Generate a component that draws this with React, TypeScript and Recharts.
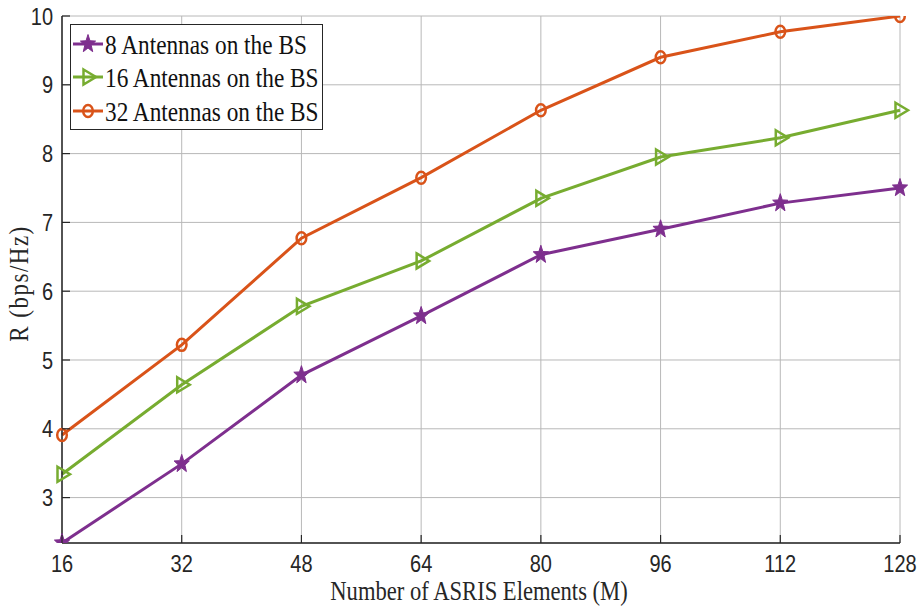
import { LineChart, Line, XAxis, YAxis, CartesianGrid, Legend } from "recharts";

// Number of ASRIS elements (x axis)
const elements = [16, 32, 48, 64, 80, 96, 112, 128];
// Achievable rate (bps/Hz) per BS antenna count
const rate8 = [2.34, 3.49, 4.78, 5.64, 6.53, 6.9, 7.28, 7.5];
const rate16 = [3.34, 4.64, 5.78, 6.44, 7.35, 7.95, 8.23, 8.63];
const rate32 = [3.91, 5.22, 6.77, 7.65, 8.63, 9.4, 9.77, 10.0];
const yTicks = [3, 4, 5, 6, 7, 8, 9, 10];
const seriesNames = ["8 Antennas on the BS", "16 Antennas on the BS", "32 Antennas on the BS"];

const PURPLE = "#7E2F8E";
const GREEN = "#77AC30";
const ORANGE = "#D95319";
const AXIS = "#262626";
const GRID = "#b8b8b8";
const TICK_FONT = "'Liberation Sans', Arial, sans-serif";
const SERIF = "'Liberation Serif', 'Times New Roman', serif";
const STRETCH = 1.2; // source figure is stretched vertically

const data = elements.map((m, i) => ({
  m,
  r8: rate8[i],
  r16: rate16[i],
  r32: rate32[i],
}));

// ── markers ────────────────────────────────────────────────────────────────
function starPoints(cx: number, cy: number, rx: number, ry: number) {
  const pts: string[] = [];
  for (let i = 0; i < 10; i++) {
    const k = i % 2 === 0 ? 1 : 0.42;
    const a = -Math.PI / 2 + (i * Math.PI) / 5;
    pts.push(`${cx + rx * k * Math.cos(a)},${cy + ry * k * Math.sin(a)}`);
  }
  return pts.join(" ");
}

function Marker({ kind, cx, cy, color }: { kind: string; cx: number; cy: number; color: string }) {
  if (kind === "star") {
    return <polygon points={starPoints(cx, cy, 8, 9.5)} fill={color} stroke={color} strokeWidth={1} />;
  }
  if (kind === "tri") {
    return (
      <polygon
        points={`${cx - 4.5},${cy - 7.5} ${cx + 8},${cy} ${cx - 4.5},${cy + 7.5}`}
        fill="none"
        stroke={color}
        strokeWidth={2.5}
      />
    );
  }
  return <ellipse cx={cx} cy={cy} rx={4.8} ry={6} fill="none" stroke={color} strokeWidth={2.5} />;
}

const makeDot = (kind: string, color: string) => (props: any) => {
  const { cx, cy, index } = props;
  if (cx == null || cy == null) return <g key={`${kind}-${index}`} />;
  return (
    <g key={`${kind}-${index}`}>
      <Marker kind={kind} cx={cx} cy={cy} color={color} />
    </g>
  );
};

// ── axis ticks (MATLAB style, pointing inward) ──────────────────────────────
const BottomTick = (props: any) => {
  const { x, y, payload } = props;
  return (
    <g>
      <line x1={x} y1={y} x2={x} y2={y - 8} stroke={AXIS} strokeWidth={1.2} />
      <text
        transform={`translate(${x},${y + 29}) scale(1,${STRETCH})`}
        textAnchor="middle"
        fontFamily={TICK_FONT}
        fontSize={20}
        fill="#262626"
      >
        {payload.value}
      </text>
    </g>
  );
};

const TopTick = (props: any) => {
  const { x, y } = props;
  return <line x1={x} y1={y} x2={x} y2={y + 8} stroke={AXIS} strokeWidth={1.2} />;
};

const LeftTick = (props: any) => {
  const { x, y, payload } = props;
  return (
    <g>
      <line x1={x} y1={y} x2={x + 8} y2={y} stroke={AXIS} strokeWidth={1.2} />
      <text
        transform={`translate(${x - 9},${y}) scale(1,${STRETCH})`}
        dy="0.36em"
        textAnchor="end"
        fontFamily={TICK_FONT}
        fontSize={20}
        fill="#262626"
      >
        {payload.value}
      </text>
    </g>
  );
};

const RightTick = (props: any) => {
  const { x, y } = props;
  return <line x1={x} y1={y} x2={x - 8} y2={y} stroke={AXIS} strokeWidth={1.2} />;
};

// ── axis labels ─────────────────────────────────────────────────────────────
const XLabel = (props: any) => {
  const { viewBox } = props;
  const cx = viewBox.x + viewBox.width / 2;
  return (
    <text
      transform={`translate(${cx - 2},${viewBox.y + 57}) scale(1,${STRETCH})`}
      textAnchor="middle"
      fontFamily={SERIF}
      fontSize={22.6}
      fill="#262626"
    >
      Number of ASRIS Elements (M)
    </text>
  );
};

const YLabel = (props: any) => {
  const { viewBox } = props;
  const cy = viewBox.y + viewBox.height / 2 + 4;
  return (
    <text
      transform={`translate(28,${cy}) rotate(-90) scale(1,${STRETCH})`}
      textAnchor="middle"
      fontFamily={SERIF}
      fontSize={23}
      letterSpacing={1.5}
      fill="#262626"
    >
      R (bps/Hz)
    </text>
  );
};

// ── legend ──────────────────────────────────────────────────────────────────
const legendKinds: Record<string, { kind: string; color: string }> = {
  r8: { kind: "star", color: PURPLE },
  r16: { kind: "tri", color: GREEN },
  r32: { kind: "circle", color: ORANGE },
};

const LegendBox = () => (
  <div
    style={{
      width: 251,
      height: 102,
      border: `1px solid ${AXIS}`,
      background: "#fff",
      paddingTop: 2,
      boxSizing: "content-box",
    }}
  >
    {(["r8", "r16", "r32"] as const).map((key, i) => {
      const { kind, color } = legendKinds[key];
      return (
        <div key={key} style={{ display: "flex", alignItems: "center", height: 33.5 }}>
          <svg width={34} height={30} style={{ flex: "none" }}>
            <line x1={2} y1={15} x2={32} y2={15} stroke={color} strokeWidth={3} />
            <Marker kind={kind} cx={17} cy={15} color={color} />
          </svg>
          <span
            style={{
              fontFamily: SERIF,
              fontSize: 23.3,
              color: "#111",
              display: "inline-block",
              transform: `scaleY(${STRETCH})`,
              whiteSpace: "nowrap",
              lineHeight: "30px",
            }}
          >
            {seriesNames[i]}
          </span>
        </div>
      );
    })}
  </div>
);

export default function App() {
  return (
    <div style={{ position: "absolute", left: 0, top: 0, background: "#fff" }}>
      <LineChart width={919} height={607} data={data} margin={{ top: 16, right: 19, left: 0, bottom: 0 }}>
        <CartesianGrid stroke={GRID} strokeWidth={1} />
        <XAxis
          dataKey="m"
          type="number"
          domain={[16, 128]}
          ticks={elements}
          height={64}
          tickSize={0}
          tickMargin={0}
          tickLine={false}
          axisLine={{ stroke: AXIS, strokeWidth: 1.5 }}
          tick={<BottomTick />}
          interval={0}
          label={<XLabel />}
        />
        <XAxis
          xAxisId="top"
          orientation="top"
          dataKey="m"
          type="number"
          domain={[16, 128]}
          ticks={elements}
          height={0}
          tickSize={0}
          tickMargin={0}
          tickLine={false}
          axisLine={{ stroke: AXIS, strokeWidth: 1.5 }}
          tick={<TopTick />}
          interval={0}
        />
        <YAxis
          type="number"
          domain={[2.34, 10]}
          ticks={yTicks}
          width={62}
          tickSize={0}
          tickMargin={0}
          tickLine={false}
          axisLine={{ stroke: AXIS, strokeWidth: 1.5 }}
          tick={<LeftTick />}
          interval={0}
          allowDataOverflow
          label={<YLabel />}
        />
        <YAxis
          yAxisId="right"
          orientation="right"
          type="number"
          domain={[2.34, 10]}
          ticks={yTicks}
          width={0}
          tickSize={0}
          tickMargin={0}
          tickLine={false}
          axisLine={{ stroke: AXIS, strokeWidth: 1.5 }}
          tick={<RightTick />}
          interval={0}
          allowDataOverflow
        />
        <Legend
          layout="vertical"
          align="center"
          verticalAlign="middle"
          wrapperStyle={{ left: 70, top: 24, width: "auto", height: "auto" }}
          content={() => <LegendBox />}
        />
        <Line
          dataKey="r8"
          name={seriesNames[0]}
          stroke={PURPLE}
          strokeWidth={3}
          dot={makeDot("star", PURPLE)}
          activeDot={false}
          isAnimationActive={false}
        />
        <Line
          dataKey="r16"
          name={seriesNames[1]}
          stroke={GREEN}
          strokeWidth={3}
          dot={makeDot("tri", GREEN)}
          activeDot={false}
          isAnimationActive={false}
        />
        <Line
          dataKey="r32"
          name={seriesNames[2]}
          stroke={ORANGE}
          strokeWidth={3}
          dot={makeDot("circle", ORANGE)}
          activeDot={false}
          isAnimationActive={false}
        />
      </LineChart>
    </div>
  );
}
